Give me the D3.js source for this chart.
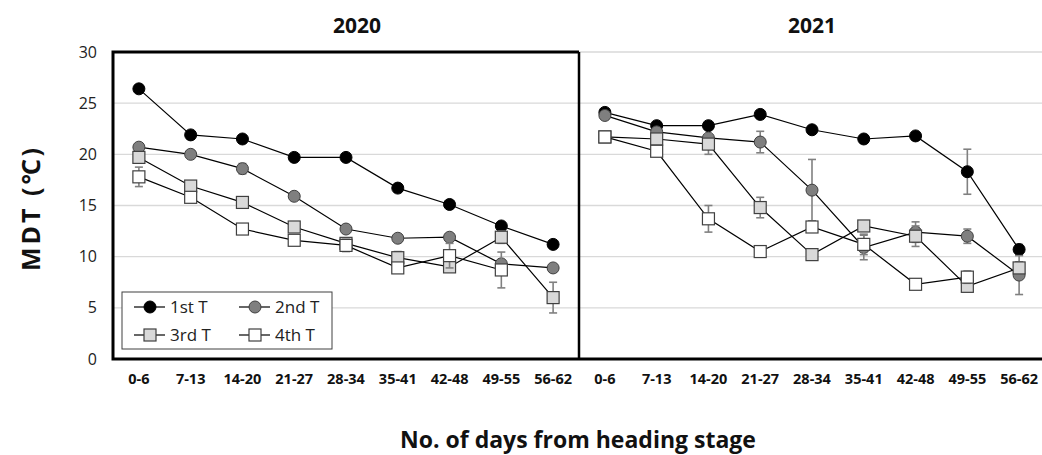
<!DOCTYPE html>
<html>
<head>
<meta charset="utf-8">
<script src="https://cdn.jsdelivr.net/npm/d3@7"></script>
<style>
  body { margin: 0; background: #fff; }
  svg text { font-family: "Open Sans", "Noto Sans", sans-serif; }
</style>
</head>
<body>
<svg width="1042" height="455"></svg>
<script>
// Categories (days from heading stage)
const categories = ["0-6", "7-13", "14-20", "21-27", "28-34", "35-41", "42-48", "49-55", "56-62"];
const years = ["2020", "2021"];
const seriesNames = ["1st T", "2nd T", "3rd T", "4th T"];
const yTicks = [0, 5, 10, 15, 20, 25, 30];

// 2020 means
const t1_2020 = [26.4, 21.9, 21.5, 19.7, 19.7, 16.7, 15.1, 13.0, 11.2];
const t2_2020 = [20.7, 20.0, 18.6, 15.9, 12.7, 11.8, 11.9, 9.3, 8.9];
const t3_2020 = [19.7, 16.9, 15.3, 12.9, 11.3, 9.9, 9.0, 11.9, 6.0];
const t4_2020 = [17.8, 15.8, 12.7, 11.6, 11.1, 8.9, 10.1, 8.7, null];
// 2020 error
const e1_2020 = [0.2, 0.2, 0.2, 0.2, 0.2, 0.2, 0.2, 0.2, 0.2];
const e2_2020 = [0.2, 0.2, 0.5, 0.2, 0.2, 0.2, 0.3, 0.3, 0.2];
const e3_2020 = [0.3, 0.3, 0.5, 0.3, 0.4, 0.6, 0.4, 0.6, 1.5];
const e4_2020 = [0.95, 0.3, 0.2, 0.3, 0.6, 0.3, 1.2, 1.75, null];

// 2021 means
const t1_2021 = [24.1, 22.8, 22.8, 23.9, 22.4, 21.5, 21.8, 18.3, 10.7];
const t2_2021 = [23.8, 22.2, 21.6, 21.2, 16.5, 10.9, 12.4, 12.0, 8.2];
const t3_2021 = [21.7, 21.5, 21.0, 14.8, 10.2, 13.0, 12.0, 7.1, 8.9];
const t4_2021 = [21.7, 20.3, 13.7, 10.5, 12.9, 11.2, 7.3, 8.0, null];
// 2021 error
const e1_2021 = [0.3, 0.2, 0.2, 0.2, 0.2, 0.2, 0.2, 2.2, 0.5];
const e2_2021 = [0.3, 0.3, 0.4, 1.05, 3.0, 1.2, 1.0, 0.7, 1.9];
const e3_2021 = [0.3, 0.3, 1.0, 1.0, 0.3, 0.3, 1.0, 0.3, 0.6];
const e4_2021 = [0.3, 0.5, 1.3, 0.3, 0.3, 1.0, 0.3, 0.6, null];

const means = {
  "2020": [t1_2020, t2_2020, t3_2020, t4_2020],
  "2021": [t1_2021, t2_2021, t3_2021, t4_2021]
};
const errors = {
  "2020": [e1_2020, e2_2020, e3_2020, e4_2020],
  "2021": [e1_2021, e2_2021, e3_2021, e4_2021]
};

// marker styles per series
const styles = [
  {shape: "circle", fill: "#000000", stroke: "#000000"},
  {shape: "circle", fill: "#7f7f7f", stroke: "#404040"},
  {shape: "square", fill: "#d9d9d9", stroke: "#404040"},
  {shape: "square", fill: "#ffffff", stroke: "#404040"}
];

const svg = d3.select("svg");
const plotTop = 52, plotBottom = 359;
const panelW = 466;
const left0 = 113;

const y = d3.scaleLinear().domain([0, 30]).range([plotBottom, plotTop]);

// y axis labels
svg.append("g")
    .attr("transform", `translate(${left0},0)`)
    .call(d3.axisLeft(y).tickValues(yTicks).tickSize(0).tickPadding(16))
    .call(g => g.select(".domain").remove())
    .selectAll("text")
    .attr("font-size", 16)
    .attr("fill", "#222");

function drawMarker(g, s, cx, cy) {
  if (s.shape === "circle") {
    g.append("circle")
        .attr("cx", cx).attr("cy", cy).attr("r", 6)
        .attr("fill", s.fill).attr("stroke", s.stroke).attr("stroke-width", 1);
  } else {
    g.append("rect")
        .attr("x", cx - 6).attr("y", cy - 6)
        .attr("width", 12).attr("height", 12)
        .attr("fill", s.fill).attr("stroke", s.stroke).attr("stroke-width", 1.2);
  }
}

years.forEach((yr, p) => {
  const x0 = left0 + p * panelW;
  const x = d3.scaleBand().domain(categories).range([x0, x0 + panelW]);
  const cx = c => x(c) + x.bandwidth() / 2;

  // gridlines
  svg.append("g").selectAll("line")
      .data(yTicks.filter(v => v > 0 && (p === 1 || v < 30)))
      .enter()
      .append("line")
      .attr("x1", x0).attr("x2", x0 + panelW)
      .attr("y1", d => y(d)).attr("y2", d => y(d))
      .attr("stroke", "#d9d9d9").attr("stroke-width", 1.3);

  // x axis labels
  svg.append("g")
      .attr("transform", `translate(0,${plotBottom})`)
      .call(d3.axisBottom(x).tickSize(0).tickPadding(15))
      .call(g => g.select(".domain").remove())
      .selectAll("text")
      .attr("font-size", 14.5)
      .attr("font-weight", "bold")
      .attr("fill", "#111");

  // year title
  svg.append("text")
      .attr("x", x0 + panelW / 2 + (p === 0 ? 11 : 0))
      .attr("y", 33)
      .attr("text-anchor", "middle")
      .attr("font-size", 21)
      .attr("font-weight", "bold")
      .attr("fill", "#111")
      .text(yr);

  // series
  means[yr].forEach((vals, si) => {
    const s = styles[si];
    const g = svg.append("g");
    const pts = categories.map((c, i) => ({c, v: vals[i], e: errors[yr][si][i]}))
        .filter(d => d.v !== null);

    // error bars
    pts.forEach(d => {
      const xx = cx(d.c);
      g.append("line")
          .attr("x1", xx).attr("x2", xx)
          .attr("y1", y(d.v - d.e)).attr("y2", y(d.v + d.e))
          .attr("stroke", "#808080").attr("stroke-width", 1.6);
      [d.v - d.e, d.v + d.e].forEach(v => {
        g.append("line")
            .attr("x1", xx - 4).attr("x2", xx + 4)
            .attr("y1", y(v)).attr("y2", y(v))
            .attr("stroke", "#808080").attr("stroke-width", 1.6);
      });
    });

    // line
    g.append("path")
        .datum(pts)
        .attr("fill", "none")
        .attr("stroke", "#000")
        .attr("stroke-width", 1.2)
        .attr("d", d3.line().x(d => cx(d.c)).y(d => y(d.v)));

    // markers
    pts.forEach(d => drawMarker(g, s, cx(d.c), y(d.v)));
  });
});

// frame
const frame = svg.append("g").attr("stroke", "#000").attr("fill", "none");
frame.append("path")
    .attr("d", `M${left0 + panelW},${plotTop} H${left0} V${plotBottom} H1042`)
    .attr("stroke-width", 3);
frame.append("line")
    .attr("x1", left0 + panelW).attr("x2", left0 + panelW)
    .attr("y1", plotTop).attr("y2", plotBottom)
    .attr("stroke-width", 2.5);

// legend
const lg = svg.append("g").attr("transform", "translate(122,292)");
lg.append("rect")
    .attr("width", 210).attr("height", 57)
    .attr("fill", "#fff").attr("stroke", "#404040").attr("stroke-width", 1);
seriesNames.forEach((name, i) => {
  const col = i % 2, row = Math.floor(i / 2);
  const lx = 12 + col * 105, ly = 15 + row * 28;
  lg.append("line")
      .attr("x1", lx).attr("x2", lx + 31)
      .attr("y1", ly).attr("y2", ly)
      .attr("stroke", "#000").attr("stroke-width", 1.2);
  drawMarker(lg, styles[i], lx + 16, ly);
  lg.append("text")
      .attr("x", lx + 36).attr("y", ly + 6)
      .attr("font-size", 17)
      .attr("fill", "#222")
      .text(name);
});

// axis titles
svg.append("text")
    .attr("transform", "translate(40,208) rotate(-90)")
    .attr("text-anchor", "middle")
    .attr("font-size", 25)
    .attr("letter-spacing", 3)
    .attr("font-weight", "bold")
    .attr("fill", "#111")
    .text("MDT (℃)");

svg.append("text")
    .attr("x", 578).attr("y", 448)
    .attr("text-anchor", "middle")
    .attr("font-size", 23)
    .attr("font-weight", "bold")
    .attr("fill", "#111")
    .text("No. of days from heading stage");
</script>
</body>
</html>
